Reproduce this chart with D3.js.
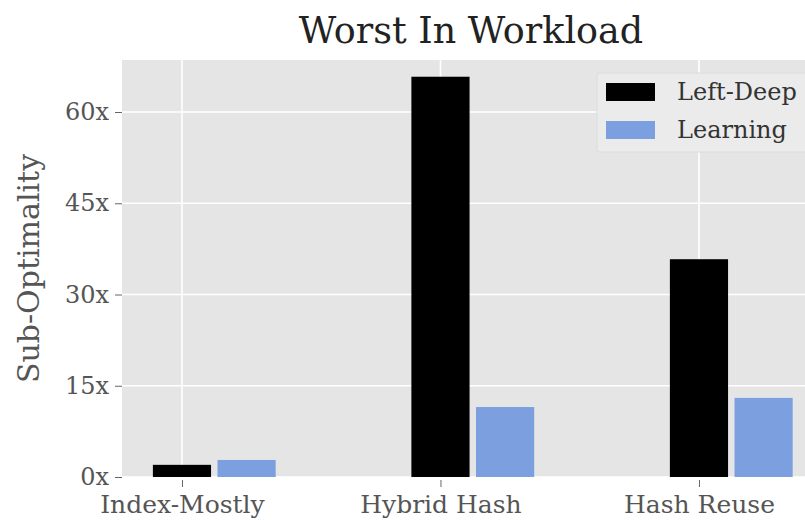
<!DOCTYPE html>
<html>
<head>
<meta charset="utf-8">
<script src="https://cdn.jsdelivr.net/npm/d3@7"></script>
<style>
  html, body { margin: 0; padding: 0; background: #fff; }
  svg { display: block; }
  text { font-family: "DejaVu Serif", serif; }
</style>
</head>
<body>
<svg id="chart" width="805" height="520"></svg>
<script>
// Worst-case sub-optimality per workload, two planners
const categories = ["Index-Mostly", "Hybrid Hash", "Hash Reuse"];
const leftDeep = [2.0, 65.8, 35.8];
const learning = [2.8, 11.5, 13.0];
const seriesNames = ["Left-Deep", "Learning"];
const yTicks = [0, 15, 30, 45, 60];

const W = 805, H = 520;
const plot = { left: 122, top: 60, bottom: 477 };

const svg = d3.select("#chart");

// x: category index on a linear scale; the right side runs past the canvas
const x = d3.scaleLinear().domain([-0.232, 2.5]).range([plot.left, plot.left + 2.732 * 258.5]);
const y = d3.scaleLinear().domain([0, 68.55]).range([plot.bottom, plot.top]);

const barW = 0.225, offset = 0.25;

// panel background
svg.append("rect")
  .attr("x", plot.left).attr("y", plot.top)
  .attr("width", W - plot.left).attr("height", plot.bottom - plot.top)
  .attr("fill", "#e5e5e5");

// grid
const grid = svg.append("g");
grid.selectAll("line.h").data(yTicks).join("line")
  .attr("x1", plot.left).attr("x2", W)
  .attr("y1", d => y(d)).attr("y2", d => y(d))
  .attr("stroke", "#fff").attr("stroke-width", 1.6);
grid.selectAll("line.v").data(categories.map((c, i) => i)).join("line")
  .attr("x1", d => x(d)).attr("x2", d => x(d))
  .attr("y1", plot.top).attr("y2", plot.bottom)
  .attr("stroke", "#fff").attr("stroke-width", 1.6);

// bars
const series = [
  { name: seriesNames[0], values: leftDeep, color: "#000000", shift: 0 },
  { name: seriesNames[1], values: learning, color: "#7b9fdf", shift: offset }
];
series.forEach(s => {
  svg.append("g").selectAll("rect").data(s.values).join("rect")
    .attr("x", (d, i) => x(i + s.shift - barW / 2))
    .attr("width", x(barW) - x(0))
    .attr("y", d => y(d))
    .attr("height", d => y(0) - y(d))
    .attr("fill", s.color);
});

// y axis
const yAxis = d3.axisLeft(y).tickValues(yTicks).tickFormat(d => d + "x").tickSize(7).tickPadding(6);
const gy = svg.append("g").attr("transform", `translate(${plot.left},0)`).call(yAxis);
gy.select(".domain").remove();
gy.selectAll(".tick line").attr("stroke", "#666");
gy.selectAll(".tick text").attr("fill", "#555").style("font-size", "24px").style("font-family", "DejaVu Serif");

// x axis
const xAxis = d3.axisBottom(x).tickValues([0, 1, 2]).tickFormat(i => categories[i]).tickSize(7).tickPadding(8);
const gx = svg.append("g").attr("transform", `translate(0,${plot.bottom + 3})`).call(xAxis);
gx.select(".domain").remove();
gx.selectAll(".tick line").attr("stroke", "#666");
gx.selectAll(".tick text").attr("fill", "#555").style("font-size", "25px").style("font-family", "DejaVu Serif");

// axis title
svg.append("text")
  .attr("transform", `translate(39,${(plot.top + plot.bottom) / 2}) rotate(-90)`)
  .attr("text-anchor", "middle")
  .attr("fill", "#555")
  .style("font-size", "30px")
  .text("Sub-Optimality");

// chart title
svg.append("text")
  .attr("x", 471).attr("y", 43)
  .attr("text-anchor", "middle")
  .attr("fill", "#222")
  .style("font-size", "36.5px")
  .text("Worst In Workload");

// legend
const lg = svg.append("g");
lg.append("rect")
  .attr("x", 597).attr("y", 73).attr("width", 220).attr("height", 79)
  .attr("rx", 3)
  .attr("fill", "#ebebeb").attr("stroke", "#dcdcdc");
series.forEach((s, i) => {
  const cy = 92 + i * 38;
  lg.append("rect").attr("x", 606).attr("y", cy - 9).attr("width", 49).attr("height", 18).attr("fill", s.color);
  lg.append("text").attr("x", 677).attr("y", cy + 8).attr("fill", "#333").style("font-size", "24px").text(s.name);
});
</script>
</body>
</html>
